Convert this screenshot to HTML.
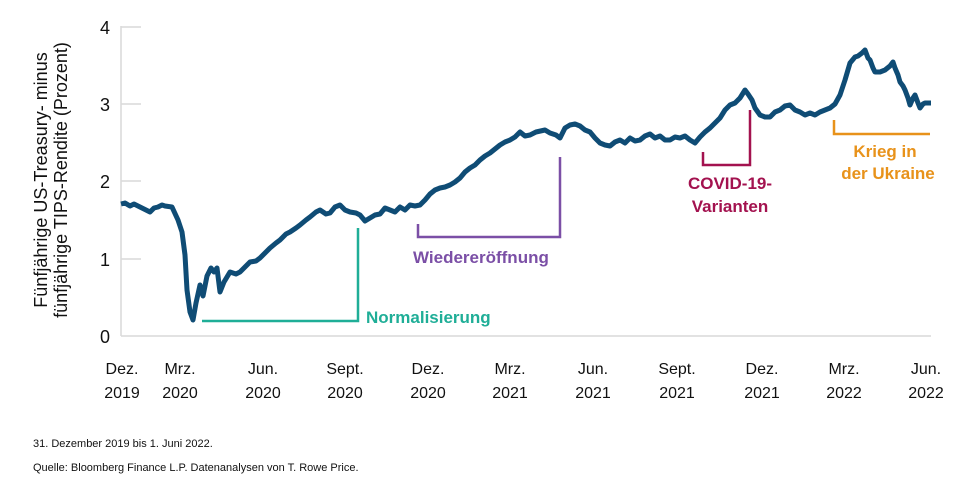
<!DOCTYPE html>
<html><head><meta charset="utf-8"><style>
html,body{margin:0;padding:0;background:#fff;}
svg{display:block;font-family:"Liberation Sans",Arial,sans-serif;}
</style></head><body>
<svg width="960" height="483" viewBox="0 0 960 483" xmlns="http://www.w3.org/2000/svg">
<g stroke="#d9d9d9" stroke-width="1.5">
<line x1="121" y1="26" x2="121" y2="336"/>
<line x1="121" y1="336" x2="931" y2="336"/>
<line x1="121" y1="27" x2="141" y2="27"/>
<line x1="121" y1="104" x2="141" y2="104"/>
<line x1="121" y1="181" x2="141" y2="181"/>
<line x1="121" y1="259" x2="141" y2="259"/>
</g>
<g font-size="18" fill="#111" text-anchor="end">
<text x="110" y="34">4</text><text x="110" y="111">3</text><text x="110" y="188">2</text><text x="110" y="266">1</text><text x="110" y="343">0</text>
</g>
<g transform="translate(50,180) rotate(-90)" font-size="18" fill="#111" text-anchor="middle">
<text x="0" y="-3">Fünfjährige US-Treasury- minus</text>
<text x="0" y="17">fünfjährige TIPS-Rendite (Prozent)</text>
</g>
<g font-size="16" fill="#111" text-anchor="middle">
<text x="122" y="374">Dez.</text><text x="122" y="398">2019</text>
<text x="180" y="374">Mrz.</text><text x="180" y="398">2020</text>
<text x="263" y="374">Jun.</text><text x="263" y="398">2020</text>
<text x="345" y="374">Sept.</text><text x="345" y="398">2020</text>
<text x="428" y="374">Dez.</text><text x="428" y="398">2020</text>
<text x="510" y="374">Mrz.</text><text x="510" y="398">2021</text>
<text x="593" y="374">Jun.</text><text x="593" y="398">2021</text>
<text x="677" y="374">Sept.</text><text x="677" y="398">2021</text>
<text x="762" y="374">Dez.</text><text x="762" y="398">2021</text>
<text x="844" y="374">Mrz.</text><text x="844" y="398">2022</text>
<text x="926" y="374">Jun.</text><text x="926" y="398">2022</text>
</g>
<polyline fill="none" stroke="#0f4c75" stroke-width="5" stroke-linejoin="round" points="121,204 125,203 130,206 134,204 140,207 146,210 150,212 154,208 158,207 162,205 165,206 172,207 178,220 182,232 185,255 187,290 190,312 193,320 196,303 200,285 203,296 207,276 211,268 214,272 217,268 220,292 224,282 230,272 236,274 240,272 246,266 250,262 256,261 260,258 266,252 270,248 276,243 280,240 286,234 290,232 296,228 300,225 306,220 310,217 316,212 320,210 326,214 330,213 335,207 340,205 345,210 350,212 356,213 360,215 365,221 370,218 375,215 380,214 385,208 390,210 395,212 400,207 405,210 410,205 415,206 420,205 425,200 430,194 435,190 440,188 445,187 450,185 455,182 460,178 465,172 470,168 475,165 480,160 485,156 490,153 495,149 500,145 505,142 510,140 515,137 520,132 525,136 530,135 536,132 545,130 550,133 556,135 560,138 565,128 570,125 575,124 580,126 585,130 590,132 595,138 600,143 605,145 610,146 615,142 620,140 625,143 630,138 635,141 640,140 645,136 650,134 655,138 660,136 665,140 670,140 675,137 680,138 685,136 690,140 695,143 700,137 705,132 710,128 715,123 720,118 725,110 730,105 735,103 740,98 745,90 748,94 752,100 755,108 760,115 765,117 770,117 775,112 780,110 785,106 790,105 795,110 800,112 805,115 810,113 815,115 820,112 825,110 830,108 835,104 840,95 845,80 850,63 855,57 858,56 862,53 865,50 868,58 870,60 873,68 875,72 880,72 885,70 890,66 893,62 895,68 898,75 900,82 903,86 905,90 908,98 910,105 913,98 915,95 918,103 920,108 923,104 925,103 931,103"/>
<g fill="none" stroke-width="2.5">
<polyline stroke="#1fae97" points="202,321 358,321 358,228"/>
<polyline stroke="#7b4fa6" points="418,224 418,237 560,237 560,157"/>
<polyline stroke="#a3124f" points="703,152 703,165 750,165 750,110"/>
<polyline stroke="#e8921a" points="834,120 834,134 930,134"/>
</g>
<g font-size="17" font-weight="bold">
<text x="366" y="323" fill="#1fae97">Normalisierung</text>
<text x="413" y="263" fill="#7b4fa6">Wiedereröffnung</text>
<text x="730" y="189" fill="#a3124f" text-anchor="middle">COVID-19-</text>
<text x="730" y="212" fill="#a3124f" text-anchor="middle">Varianten</text>
<text x="885" y="157" fill="#e8921a" text-anchor="middle">Krieg in</text>
<text x="888" y="179" fill="#e8921a" text-anchor="middle">der Ukraine</text>
</g>
<g font-size="11" fill="#111">
<text x="33" y="447">31. Dezember 2019 bis 1. Juni 2022.</text>
<text x="33" y="471">Quelle: Bloomberg Finance L.P. Datenanalysen von T. Rowe Price.</text>
</g>
</svg>
</body></html>
